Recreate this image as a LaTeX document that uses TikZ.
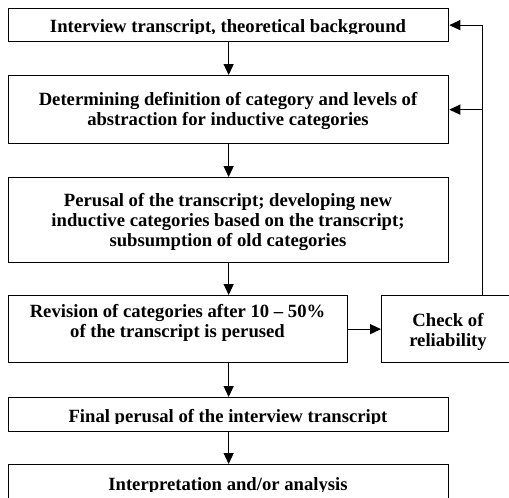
\documentclass[tikz,border=0pt]{standalone}
\usepackage{fontspec}
\setmainfont{Liberation Serif}
\usetikzlibrary{arrows.meta,calc}
\newcommand\tfont{\fontsize{14pt}{15pt}\selectfont\bfseries}
\begin{document}
\begin{tikzpicture}[x=0.75pt,y=-0.75pt,
  box/.style={draw, line width=0.95pt, inner sep=0, anchor=north west},
  txt/.style={font=\tfont, align=center, inner sep=0, anchor=base},
  arr/.style={-{Triangle[length=8.25pt,width=7.5pt]}, line width=0.9pt}]
\useasboundingbox (0,0) rectangle (509,497);
\clip (0,0) rectangle (509,497);
% boxes
\node[box, minimum width=330pt, minimum height=24.75pt] (b1) at (8,8) {};
\node[box, minimum width=330pt, minimum height=51pt] (b2) at (8,75) {};
\node[box, minimum width=330pt, minimum height=63.75pt] (b3) at (8,177) {};
\node[box, minimum width=254.25pt, minimum height=50.25pt] (b4) at (8,295) {};
\node[box, minimum width=100.5pt, minimum height=50.25pt] (chk) at (381,295) {};
\node[box, minimum width=330pt, minimum height=25.5pt] (b5) at (8,397) {};
\node[box, minimum width=330pt, minimum height=30pt] (b6) at (8,464) {};
% texts
\begin{scope}
\clip (9,9) rectangle (447,33.5);
\node[txt] (t1) at (228,32) {Interview transcript, theoretical background};
\end{scope}
\node[txt] (t2) at (228,125.5) {Determining definition of category and levels of\\abstraction for inductive categories};
\node[txt] (t3) at (228,246) {Perusal of the transcript; developing new\\inductive categories based on the transcript;\\subsumption of old categories};
\node[txt] (t4) at (177.5,337) {Revision of categories after 10 -- 50\%\\of the transcript is perused};
\node[txt] (t5) at (448,346) {Check of\\reliability};
\begin{scope}
\clip (9,398) rectangle (447,423.5);
\node[txt] (t6) at (228,422) {Final perusal of the interview transcript};
\end{scope}
\begin{scope}
\clip (9,465) rectangle (447,491.5);
\node[txt] (t7) at (228,490) {Interpretation and/or analysis};
\end{scope}
% connectors
\draw[arr] (b1.south) -- (b2.north);
\draw[arr] (b2.south) -- (b3.north);
\draw[arr] (b3.south) -- (b4.north -| b2.south);
\draw[arr] (b4.east) -- (chk.west);
\draw[arr] (b4.south -| b2.south) -- (b5.north);
\draw[arr] (b5.south) -- (b6.north);
\coordinate (fb) at ($(chk.north west)!0.75!(chk.north east)$);
\draw[arr] (fb) |- (b1.east);
\draw[arr] (fb |- b2.east) -- (b2.east);
\end{tikzpicture}
\end{document}
